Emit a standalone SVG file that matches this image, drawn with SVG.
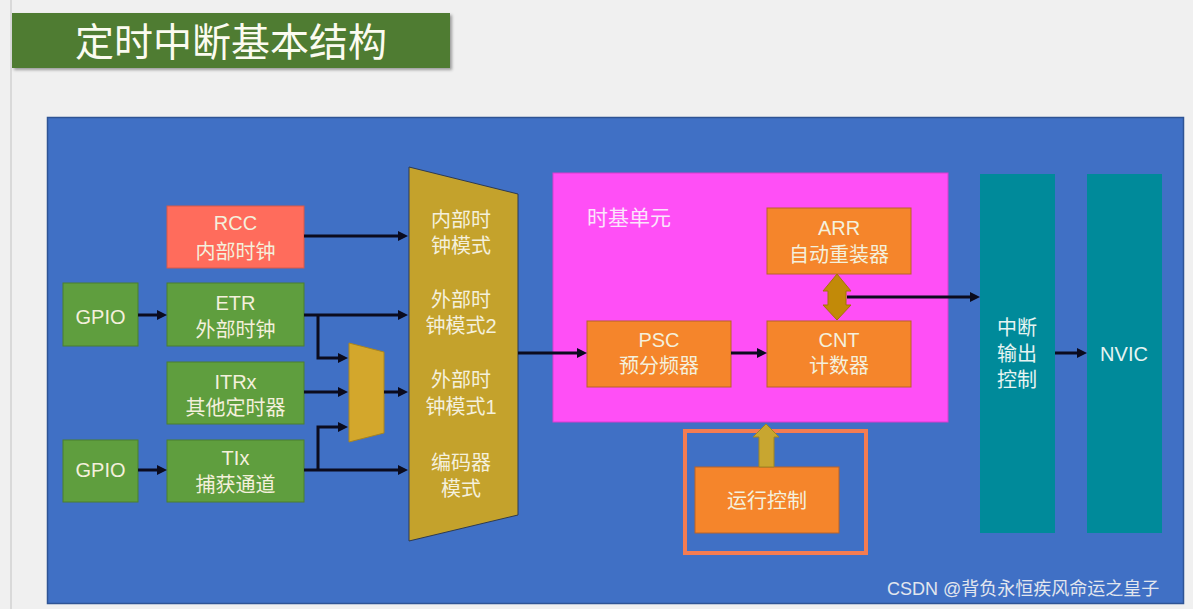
<svg xmlns="http://www.w3.org/2000/svg" width="1193" height="609" viewBox="0 0 1193 609">
<defs>
<marker id="ah" viewBox="0 0 10 10" refX="2" refY="5" markerWidth="10" markerHeight="10" markerUnits="userSpaceOnUse" orient="auto">
<path d="M0,0 L10,5 L0,10 z" fill="#0b0b1e"/>
</marker>
<filter id="sh" x="-5%" y="-20%" width="115%" height="160%">
<feDropShadow dx="2" dy="2" stdDeviation="1.5" flood-color="#000" flood-opacity="0.35"/>
</filter>
</defs>
<style>
text{font-family:"Liberation Sans","Noto Sans CJK SC",sans-serif;text-anchor:middle;}
.t{font-size:20px;fill:#f4f0dc;}
.w{fill:#e6f4f2;}
.g{fill:#5f9e3e;stroke:#4b7f2f;stroke-width:1;}
.o{fill:#f5852b;stroke:#b8622a;stroke-width:1;}
.tl{fill:#008a9a;}
.c{fill:none;stroke:#0b0b1e;stroke-width:3;}
</style>
<rect x="0" y="0" width="1193" height="609" fill="#f0f0f0"/>
<line x1="11" y1="0" x2="11" y2="609" stroke="#d2d2d2" stroke-width="1.5"/>

<g id="title">
<rect x="12" y="13" width="438" height="55" fill="#4f7b31" filter="url(#sh)"/>
<text x="231" y="56" style="font-size:39px;fill:#fbfbf0">定时中断基本结构</text>
</g>

<g id="main">
<rect x="47.5" y="117.5" width="1136" height="486" fill="#4070c5" stroke="#2f5495" stroke-width="1.5"/>
</g>

<g id="timebase">
<rect x="553" y="173" width="395" height="249" fill="#ff4ff6" stroke="#d93dd0" stroke-width="1"/>
<text x="629" y="225" style="font-size:21px;fill:#fbe4fb">时基单元</text>
</g>

<g id="rcc"><rect x="167" y="206" width="137" height="62" fill="#ff6c5c" stroke="#d85848" stroke-width="1"/>
<text class="t" x="235.5" y="230">RCC<tspan x="235.5" dy="29">内部时钟</tspan></text></g>
<g id="gpio1"><rect class="g" x="63" y="283" width="75" height="63"/><text class="t" x="100.5" y="324">GPIO</text></g>
<g id="etr"><rect class="g" x="167" y="283" width="137" height="63"/>
<text class="t" x="235.5" y="310">ETR<tspan x="235.5" dy="27">外部时钟</tspan></text></g>
<g id="itrx"><rect class="g" x="167" y="362" width="137" height="62"/>
<text class="t" x="235.5" y="389">ITRx<tspan x="235.5" dy="26">其他定时器</tspan></text></g>
<g id="gpio2"><rect class="g" x="63" y="440" width="75" height="62"/><text class="t" x="100.5" y="477">GPIO</text></g>
<g id="tix"><rect class="g" x="167" y="440" width="137" height="62"/>
<text class="t" x="235.5" y="465">TIx<tspan x="235.5" dy="27">捕获通道</tspan></text></g>

<g id="mux"><polygon points="349,343 384,352 384,433 349,442" fill="#d3a72c" stroke="#a88420" stroke-width="1"/></g>

<g id="modes">
<polygon points="409,167 518,194 518,515 409,541" fill="#c4a22c" stroke="#2d3a52" stroke-width="1"/>
<text class="t" x="461" y="227">内部时<tspan x="461" dy="26">钟模式</tspan></text>
<text class="t" x="461" y="307">外部时<tspan x="461" dy="26">钟模式2</tspan></text>
<text class="t" x="461" y="387">外部时<tspan x="461" dy="27">钟模式1</tspan></text>
<text class="t" x="461" y="470">编码器<tspan x="461" dy="26">模式</tspan></text>
</g>

<g id="arr"><rect class="o" x="767" y="208" width="144" height="66"/>
<text class="t" x="839" y="235">ARR<tspan x="839" dy="27">自动重装器</tspan></text></g>
<g id="psc"><rect class="o" x="587" y="321" width="144" height="66"/>
<text class="t" x="659" y="347">PSC<tspan x="659" dy="26">预分频器</tspan></text></g>
<g id="cnt"><rect class="o" x="767" y="321" width="144" height="66"/>
<text class="t" x="839" y="347">CNT<tspan x="839" dy="26">计数器</tspan></text></g>

<g id="runctrl">
<rect x="685" y="431" width="181" height="122" fill="none" stroke="#f47c52" stroke-width="4"/>
<rect class="o" x="695" y="467" width="144" height="66"/>
<text class="t" x="767" y="508">运行控制</text>
</g>

<g id="intout"><rect class="tl" x="980" y="174" width="75" height="359"/>
<text class="t w" x="1017" y="335">中断<tspan x="1017" dy="26">输出</tspan><tspan x="1017" dy="26">控制</tspan></text></g>
<g id="nvic"><rect class="tl" x="1087" y="174" width="75" height="359"/>
<text class="t w" x="1124" y="361">NVIC</text></g>

<g id="connectors">
<line class="c" x1="138" y1="315" x2="159" y2="315" marker-end="url(#ah)"/>
<line class="c" x1="138" y1="470" x2="159" y2="470" marker-end="url(#ah)"/>
<line class="c" x1="304" y1="236" x2="400" y2="236" marker-end="url(#ah)"/>
<line class="c" x1="304" y1="315" x2="400" y2="315" marker-end="url(#ah)"/>
<path class="c" d="M318,315 V358 H340" marker-end="url(#ah)"/>
<line class="c" x1="304" y1="392" x2="340" y2="392" marker-end="url(#ah)"/>
<line class="c" x1="304" y1="470" x2="400" y2="470" marker-end="url(#ah)"/>
<path class="c" d="M318,470 V427 H340" marker-end="url(#ah)"/>
<line class="c" x1="384" y1="392" x2="400" y2="392" marker-end="url(#ah)"/>
<line class="c" x1="518" y1="353" x2="579" y2="353" marker-end="url(#ah)"/>
<line class="c" x1="731" y1="353" x2="759" y2="353" marker-end="url(#ah)"/>
<line class="c" x1="847" y1="297" x2="972" y2="297" marker-end="url(#ah)"/>
<line class="c" x1="1055" y1="353" x2="1079" y2="353" marker-end="url(#ah)"/>
<polygon points="837,274 851,291 846,291 846,305 851,305 837,320 823,305 828,305 828,291 823,291" fill="#c28a08" stroke="#a57208" stroke-width="1"/>
<polygon points="766,424 779,437 774,437 774,467 759,467 759,437 753,437" fill="#c8a630" stroke="#a08420" stroke-width="1"/>
</g>

<text x="887" y="595" style="font-size:18px;fill:#e2e6ee;text-anchor:start">CSDN @背负永恒疾风命运之皇子</text>
</svg>
